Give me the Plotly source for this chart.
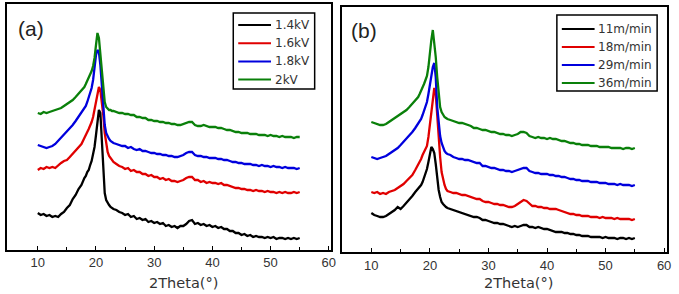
import plotly.graph_objects as go

# shared 2-theta grid (degrees)
theta = [10.0, 10.5, 11.0, 11.5, 12.0, 12.5, 13.0, 13.5, 14.0, 14.5, 15.0, 15.5, 16.0, 16.5, 17.0, 17.5,
         18.0, 18.25, 18.5, 18.75, 19.0, 19.25, 19.5, 19.75, 20.0, 20.25, 20.5, 20.75, 21.0, 21.25, 21.5,
         21.75, 22.0, 22.25, 22.5, 22.75, 23.0,
         23.5, 24.0, 24.5, 25.0, 25.5, 26.0, 26.5, 27.0, 27.5, 28.0, 28.5, 29.0, 29.5, 30.0, 30.5, 31.0,
         31.5, 32.0, 32.5, 33.0, 33.5, 34.0, 34.5, 35.0, 35.5, 36.0, 36.5, 37.0, 37.5, 38.0, 38.5, 39.0,
         39.5, 40.0, 40.5, 41.0, 41.5, 42.0, 42.5, 43.0, 43.5, 44.0, 44.5, 45.0, 45.5, 46.0, 46.5, 47.0,
         47.5, 48.0, 48.5, 49.0, 49.5, 50.0, 50.5, 51.0, 51.5, 52.0, 52.5, 53.0, 53.5, 54.0, 54.5, 55.0]

# Panel (a): voltage series (intensity, a.u., vertically offset)
a_labels = ["1.4kV", "1.6kV", "1.8kV", "2kV"]
a_14kv = [37, 35, 36, 34, 35, 33, 34, 33, 36, 38, 42, 45, 51, 55, 61, 65,
          72, 74, 78, 80, 85, 89, 96, 103, 115, 127, 140, 137, 110, 76, 57, 50, 47, 45, 43, 42, 41,
          40, 38, 37, 35, 36, 33, 34, 31, 32, 30, 31, 28, 29, 27, 28, 26, 27, 24, 25, 23, 24, 22, 24, 24,
          26, 29, 30, 26, 27, 25, 26, 24, 25, 23, 24, 22, 23, 21, 21, 19, 19, 17, 17, 15, 16, 14, 15, 13,
          14, 13, 13, 12, 13, 12, 13, 11, 12, 12, 11, 12, 11, 12, 11, 12]
a_16kv = [80, 82, 81, 83, 82, 83, 82, 85, 87, 89, 90, 93, 96, 99, 102, 106,
          112, 116, 118, 121, 124, 128, 133, 140, 148, 157, 163, 160, 150, 135, 117, 106, 98, 94, 92, 90, 88,
          86, 84, 83, 81, 82, 79, 80, 78, 78, 76, 76, 74, 75, 73, 73, 71, 72, 70, 71, 69, 69, 68, 69, 70,
          72, 73, 73, 70, 70, 68, 69, 67, 68, 67, 67, 66, 67, 65, 65, 64, 63, 62, 62, 61, 61, 60, 60, 59,
          60, 59, 59, 58, 59, 58, 58, 57, 58, 57, 58, 57, 57, 58, 57, 58]
a_18kv = [105, 104, 103, 102, 103, 104, 106, 109, 112, 115, 118, 121, 125, 129, 133, 137,
          141, 144, 148, 152, 156, 162, 170, 182, 195, 200, 198, 185, 165, 140, 125, 117, 113, 111, 109, 108, 107,
          106, 105, 104, 104, 102, 103, 101, 100, 101, 99, 99, 98, 97, 97, 96, 96, 95, 95, 94, 94, 93, 93, 94, 95,
          97, 98, 98, 95, 94, 94, 93, 93, 92, 92, 92, 91, 91, 90, 90, 89, 88, 88, 87, 87, 86, 86, 86, 85,
          85, 84, 85, 84, 84, 83, 84, 83, 83, 82, 83, 82, 82, 82, 81, 82]
a_2kv = [137, 136, 138, 137, 138, 139, 140, 141, 142, 144, 146, 148, 150, 153, 156, 159,
         163, 166, 169, 172, 175, 179, 184, 192, 205, 217, 212, 195, 183, 165, 148, 143, 141, 140, 140, 139, 139,
         138, 137, 137, 136, 136, 135, 135, 133, 133, 132, 132, 130, 130, 129, 129, 128, 128, 127, 127, 126, 126,
         125, 125, 126, 127, 128, 128, 125, 124, 124, 125, 124, 123, 123, 123, 122, 122, 121, 120, 120, 119,
         118, 118, 117, 117, 117, 116, 116, 116, 115, 115, 115, 114, 115, 114, 114, 113, 114, 113, 113, 113,
         112, 113, 113]

# Panel (b): speed series
b_labels = ["11m/min", "18m/min", "29m/min", "36m/min"]
b_11 = [39, 37, 36, 35, 35, 36, 38, 40, 42, 45, 43, 46, 49, 52, 56, 60,
        63, 65, 67, 70, 74, 78, 83, 90, 100, 105, 103, 99, 88, 72, 62, 55, 50, 48, 46, 45, 44,
        43, 42, 41, 40, 39, 38, 37, 36, 35, 35, 34, 32, 32, 31, 30, 29, 29, 28, 28, 27, 26, 25, 26, 25,
        26, 27, 27, 25, 25, 24, 25, 24, 23, 23, 22, 21, 20, 20, 20, 19, 19, 18, 18, 17, 17, 16, 16, 16,
        15, 15, 15, 15, 14, 15, 14, 14, 14, 13, 14, 14, 13, 14, 13, 14]
b_18 = [60, 59, 60, 58, 59, 58, 60, 61, 62, 64, 66, 68, 71, 74, 77, 82,
        87, 90, 93, 97, 100, 103, 106, 115, 128, 142, 155, 164, 158, 135, 115, 95, 80, 72, 67, 63, 61,
        60, 59, 59, 58, 57, 57, 56, 55, 54, 53, 53, 51, 50, 50, 49, 48, 48, 47, 47, 46, 45, 45, 46, 48,
        50, 52, 51, 48, 46, 46, 45, 45, 44, 44, 43, 43, 43, 42, 41, 40, 39, 38, 38, 37, 37, 36, 36, 36,
        35, 35, 35, 34, 35, 34, 34, 34, 33, 34, 33, 33, 33, 33, 32, 33]
b_29 = [95, 94, 93, 94, 95, 96, 98, 100, 102, 104, 107, 110, 113, 116, 120, 124,
        128, 131, 133, 137, 141, 145, 150, 158, 168, 178, 185, 189, 175, 145, 128, 116, 109, 104, 101, 99, 98,
        97, 95, 94, 93, 93, 92, 92, 91, 90, 89, 89, 86, 86, 85, 84, 84, 83, 82, 82, 81, 81, 80, 81, 82,
        83, 84, 84, 81, 80, 79, 79, 78, 78, 78, 77, 77, 76, 76, 75, 75, 74, 73, 73, 72, 72, 71, 71, 71,
        70, 70, 70, 69, 69, 69, 68, 68, 68, 67, 68, 67, 67, 67, 66, 67]
b_36 = [130, 129, 128, 127, 127, 128, 130, 132, 134, 136, 138, 140, 142, 145, 148, 152,
        155, 158, 161, 165, 168, 172, 176, 185, 200, 212, 222, 210, 195, 175, 155, 145, 140, 137, 135, 134, 133,
        132, 131, 130, 129, 129, 128, 127, 126, 124, 124, 123, 122, 122, 121, 120, 120, 119, 118, 118, 117, 117,
        116, 117, 118, 120, 120, 119, 116, 115, 114, 115, 114, 114, 113, 114, 113, 113, 112, 111, 111, 110,
        109, 109, 108, 108, 107, 107, 107, 106, 106, 106, 105, 105, 105, 105, 104, 104, 104, 104, 103, 104,
        104, 103, 104]

colors = ["#000000", "#e00000", "#0000dd", "#0a800a"]
FONT = "Liberation Sans, Arial, sans-serif"
WFONT = "DejaVu Sans, sans-serif"

W, H = 679, 294

fig = go.Figure()
for name, ys, c in zip(a_labels, [a_14kv, a_16kv, a_18kv, a_2kv], colors):
    fig.add_trace(go.Scatter(x=theta, y=ys, name=name, mode="lines", showlegend=False,
                             line=dict(color=c, width=2.3), xaxis="x", yaxis="y"))
for name, ys, c in zip(b_labels, [b_11, b_18, b_29, b_36], colors):
    fig.add_trace(go.Scatter(x=theta, y=ys, name=name, mode="lines", showlegend=False,
                             line=dict(color=c, width=2.3), xaxis="x2", yaxis="y2"))

xa_dom = [7 / W, 333 / W]
xb_dom = [345 / W, 672 / W]
ya_dom = [1 - 250 / H, 1 - 4 / H]
yb_dom = [1 - 252 / H, 1 - 7 / H]

def xaxis(dom, anchor, rng, lw):
    return dict(domain=dom, anchor=anchor, range=rng, showline=True, mirror=True,
                linecolor="#000", linewidth=lw, ticks="inside", ticklen=4, tickcolor="#000",
                tickvals=[10, 20, 30, 40, 50, 60], showgrid=False, zeroline=False,
                minor=dict(tickvals=[15, 25, 35, 45, 55], ticks="inside", ticklen=3, tickcolor="#000"),
                tickfont=dict(family=FONT, size=13, color="#333"))

def yaxis(dom, anchor, rng, lw):
    return dict(domain=dom, anchor=anchor, range=rng, showline=True, mirror=True,
                linecolor="#000", linewidth=lw, ticks="", showticklabels=False,
                showgrid=False, zeroline=False)

# hand-drawn style legends (box, sample lines, labels), laid out in pixels
shapes, annotations = [], []
def px(x): return x / W
def py(y): return 1 - y / H

def add_legend(labels, box, line_x, text_x, y0, dy):
    shapes.append(dict(type="rect", xref="paper", yref="paper", x0=px(box[0]), x1=px(box[1]),
                       y0=py(box[2]), y1=py(box[3]), line=dict(color="#000", width=1.5),
                       fillcolor="white", layer="above"))
    for i, (lab, c) in enumerate(zip(labels, colors)):
        yy = y0 + i * dy
        shapes.append(dict(type="line", xref="paper", yref="paper", x0=px(line_x[0]), x1=px(line_x[1]),
                           y0=py(yy), y1=py(yy), line=dict(color=c, width=2), layer="above"))
        annotations.append(dict(text=lab, x=px(text_x), y=py(yy), xref="paper", yref="paper",
                                xanchor="left", yanchor="middle", showarrow=False,
                                font=dict(family=WFONT, size=12, color="#333")))

add_legend(a_labels, (235, 317, 13, 89), (240, 273), 275, 25, 18.2)
add_legend(b_labels, (561, 662, 15, 91), (566, 599), 600, 29, 18.0)

annotations += [
    dict(text="(a)", x=px(16), y=py(28), xref="paper", yref="paper", xanchor="left",
         yanchor="middle", showarrow=False, font=dict(family=FONT, size=21, color="#222")),
    dict(text="(b)", x=px(352), y=py(30), xref="paper", yref="paper", xanchor="left",
         yanchor="middle", showarrow=False, font=dict(family=FONT, size=21, color="#222")),
    dict(text="2Theta(°)", x=px(185), y=py(283), xref="paper", yref="paper",
         xanchor="center", yanchor="middle", showarrow=False,
         font=dict(family=WFONT, size=14.5, color="#333")),
    dict(text="2Theta(°)", x=px(522), y=py(283), xref="paper", yref="paper",
         xanchor="center", yanchor="middle", showarrow=False,
         font=dict(family=WFONT, size=14.5, color="#333")),
]

fig.update_layout(
    width=W, height=H, margin=dict(l=0, r=0, t=0, b=0),
    paper_bgcolor="white", plot_bgcolor="white", showlegend=False,
    xaxis=xaxis(xa_dom, "y", [4.7, 60.3], 1.5),
    yaxis=yaxis(ya_dom, "x", [0, 246], 1.5),
    xaxis2=xaxis(xb_dom, "y2", [5.07, 60.5], 2),
    yaxis2=yaxis(yb_dom, "x2", [0, 245], 2),
    shapes=shapes, annotations=annotations,
)

fig.write_html("out.html")
